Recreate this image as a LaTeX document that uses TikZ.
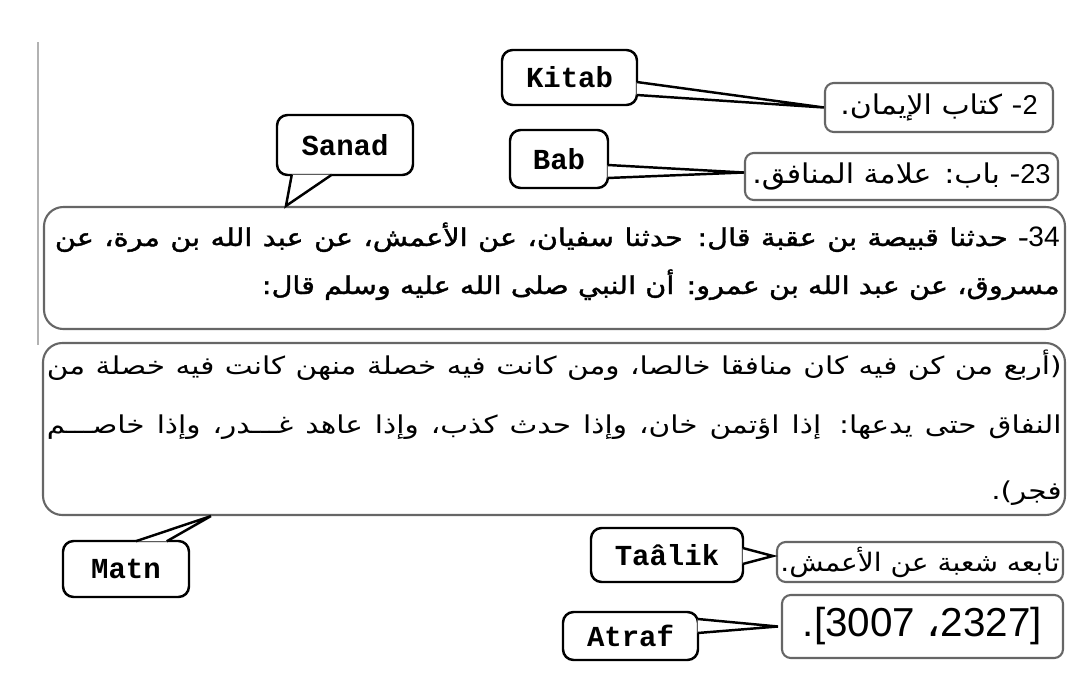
\documentclass[tikz,border=0pt]{standalone}
\usepackage{fontspec}
\usepackage{tikz}
\usetikzlibrary{calc}
\TeXXeTstate=1
\setmainfont{DejaVu Sans}
\setmonofont{Liberation Mono}
\newfontfamily\arabicfont[Script=Arabic, FakeStretch=1.1]{DejaVu Sans}
\newfontfamily\arabicwide[Script=Arabic, FakeStretch=1.2]{DejaVu Sans}
\newfontfamily\arabicbold[Script=Arabic, FakeStretch=1.17, FakeBold=1.5]{DejaVu Sans}
\newfontfamily\numfont{Liberation Sans}
\colorlet{box edge}{black!60}
\colorlet{rule gray}{black!30}
\tikzset{boxsize/.style 2 args={minimum width=#1*0.02cm, minimum height=#2*0.02cm},
    tagbox/.style={draw=black, line width=1.4pt, rounded corners=6pt, fill=white, inner sep=0pt,
        font=\ttfamily\bfseries\fontsize{16.5}{16.5}\selectfont},
    textbox/.style={draw=box edge, line width=1.2pt, rounded corners=5pt, fill=white, inner sep=0pt,
        font=\arabicfont\fontsize{15.5}{15.5}\selectfont},
    bigbox/.style={textbox, rounded corners=11pt},
    arline/.style={anchor=base east, inner sep=0pt, font=\arabicwide\fontsize{14}{14}\selectfont},
    boldline/.style={arline, font=\arabicbold\fontsize{14}{14}\selectfont},
    tailline/.style={draw=black, line width=1.4pt, line join=miter}}
% tail of a callout: base point, base point, tip
\newcommand{\calltail}[3]{%
    \fill[white] (#1) -- (#3) -- (#2) -- cycle;
    \draw[tailline] (#1) -- (#3) -- (#2);}

\begin{document}
\begin{tikzpicture}[x=0.02cm, y=-0.02cm]
    \useasboundingbox (0,0) rectangle (1080,673);
    % margin rule
    \draw[rule gray, line width=1.2pt] (38,42) -- (38,345);
    %
    % the parts of the hadith
    \node (kitabTxt) [textbox, boxsize={228}{49}] at (939,107.5)
        {\beginR\beginL{\numfont 2}\endL- كتاب الإيمان.\endR};
    \node (babTxt) [textbox, boxsize={313}{47}] at (901.5,176.5)
        {\beginR\beginL{\numfont 23}\endL- باب: علامة المنافق.\endR};
    \node (sanadBox) [bigbox, boxsize={1021}{122}] at (554.5,268) {};
    \node (matnBox) [bigbox, boxsize={1022}{172}] at (554,429) {};
    \node (taalikTxt) [textbox, boxsize={286}{40}, font=\arabicfont\fontsize{14.5}{14.5}\selectfont] at (920,562)
        {\beginR تابعه شعبة عن الأعمش.\endR};
    \node (atrafTxt) [textbox, boxsize={281}{63}] at (922.5,626.5)
        {\numfont\fontsize{23}{23}\selectfont .[3007 {\arabicfont ،}2327]};
    %
    % lines of sanad and matn
    \node (sanadA) [boldline] at (1060,246)
        {\hbox to 571.9pt{\beginR\beginL{\numfont\fontsize{16}{16}\selectfont 34}\endL- حدثنا قبيصة بن عقبة قال: حدثنا سفيان، عن الأعمش، عن عبد الله بن مرة، عن\endR}};
    \node (sanadB) [boldline] at (1060,294)
        {\beginR مسروق، عن عبد الله بن عمرو: أن النبي صلى الله عليه وسلم قال:\endR};
    \node (matnA) [arline] at (1062,374)
        {\hbox to 577.6pt{\beginR(أربع من كن فيه كان منافقا خالصا، ومن كانت فيه خصلة منهن كانت فيه خصلة من\endR}};
    \node (matnB) [arline] at (1062,433)
        {\hbox to 577.6pt{\beginR النفاق حتى يدعها: إذا اؤتمن خان، وإذا حدث كذب، وإذا عاهد غـــدر، وإذا خاصـــم\endR}};
    \node (matnC) [arline] at (1062,499)
        {\beginR فجر).\endR};
    %
    % callouts
    \node (kitab) [tagbox, boxsize={135}{55}] at (569.5,77.5) {Kitab};
    \node (bab) [tagbox, boxsize={98}{58}] at (559,159) {Bab};
    \node (sanad) [tagbox, boxsize={136}{60}] at (345,145) {Sanad};
    \node (matn) [tagbox, boxsize={126}{56}] at (126,569) {Matn};
    \node (taalik) [tagbox, boxsize={152}{54}] at (667,555) {Taâlik};
    \node (atraf) [tagbox, boxsize={135}{48}] at (630.5,636) {Atraf};
    %
    \calltail{$(kitab.east)+(-1.5,4.5)$}{$(kitab.east)+(-1.5,17.5)$}{kitabTxt.west}
    \calltail{$(bab.east)+(-1.5,6)$}{$(bab.east)+(-1.5,19)$}{$(babTxt.west)+(0,-4)$}
    \calltail{$(sanad.south west)+(16,-1.5)$}{$(sanad.south west)+(56,-1.5)$}{$(sanadBox.north west)+(243,0)$}
    \calltail{$(matn.north west)+(74,1.5)$}{$(matn.north west)+(105,1.5)$}{$(matnBox.south west)+(169,0)$}
    \calltail{$(taalik.east)+(-1.5,-7)$}{$(taalik.east)+(-1.5,9)$}{$(taalikTxt.west)+(-3,-6)$}
    \calltail{$(atraf.east)+(-1.5,-17)$}{$(atraf.east)+(-1.5,-3)$}{$(atrafTxt.west)+(-3,0)$}
\end{tikzpicture}
\end{document}
